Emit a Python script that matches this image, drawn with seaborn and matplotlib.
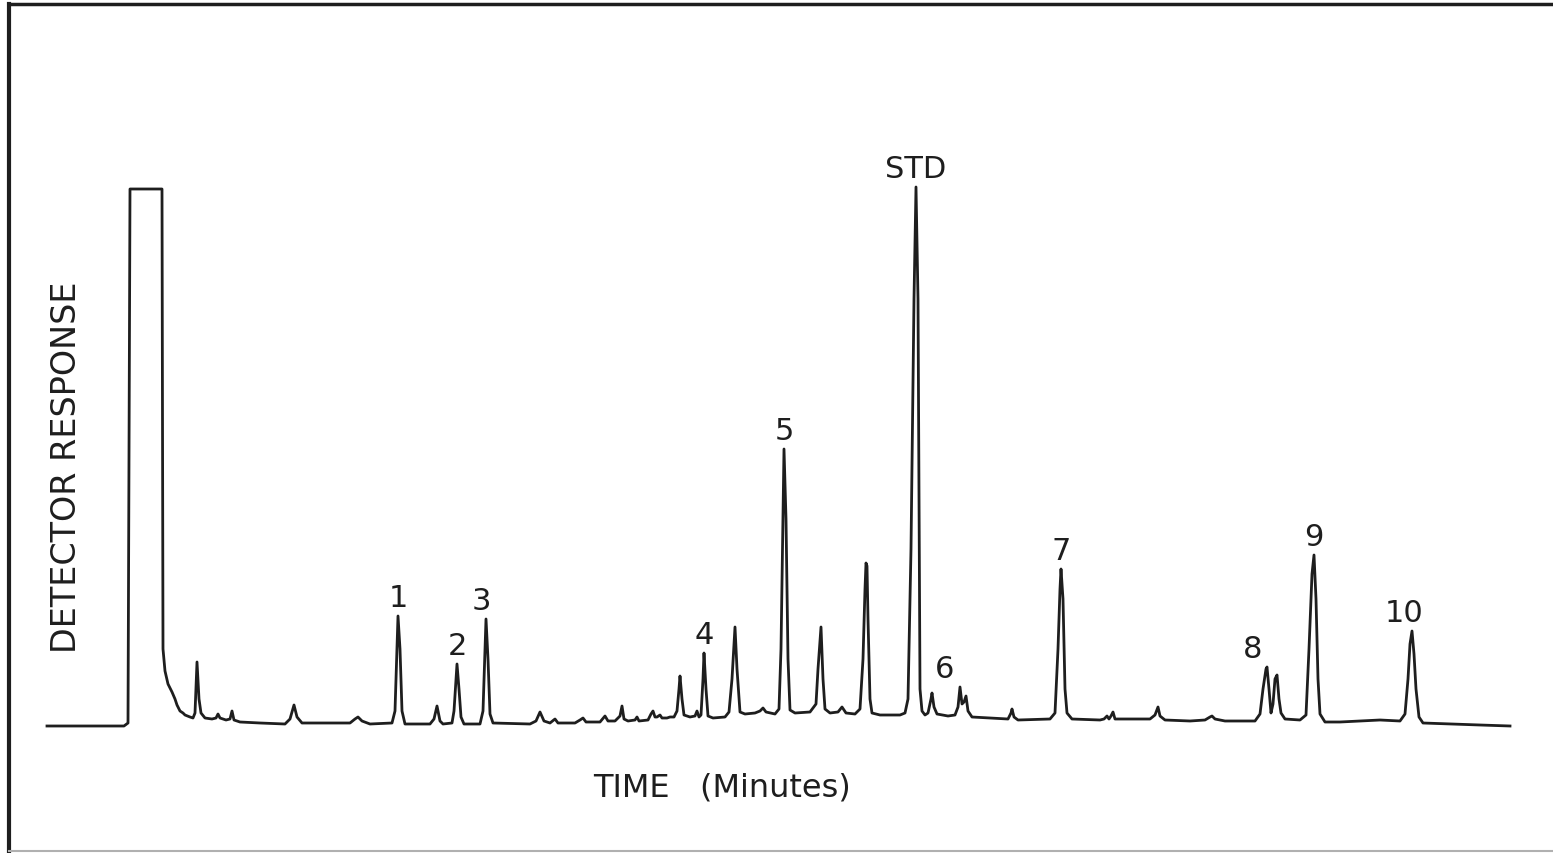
import numpy as np
import pandas as pd
import seaborn as sns
import matplotlib.pyplot as plt

"""
CHROMATOGRAM - values read off the scanned trace
time = chart column (arbitrary units), response = height above baseline
"""

time = [47, 124, 128, 130, 162, 163, 165, 168, 172, 175, 177, 180, 183, 185, 190, 193, 195, 197, 199, 201,
        205, 212, 216, 218, 220, 226, 230, 232, 234, 240, 260, 285, 290, 294, 297, 302, 330, 350, 355, 358,
        362, 370, 392, 395, 397, 398, 400, 402, 405, 430, 434, 437, 440, 443, 452, 454, 456, 457, 459, 461,
        464, 480, 483, 485, 486, 488, 490, 493, 530, 536, 540, 544, 550, 555, 558, 575, 580, 583, 586, 600,
        605, 608, 615, 620, 622, 624, 628, 635, 637, 639, 648, 651, 653, 655, 657, 660, 662, 667, 670, 674,
        677, 679, 680, 682, 684, 690, 695, 697, 699, 701, 703, 704, 706, 708, 713, 725, 729, 732, 735, 737,
        740, 745, 755, 760, 763, 766, 775, 779, 781, 783, 784, 786, 788, 790, 795, 810, 816, 818, 821, 823,
        825, 830, 838, 842, 846, 855, 860, 863, 865, 866, 867, 868, 870, 872, 880, 900, 905, 908, 911, 914,
        916, 918, 919, 920, 922, 925, 928, 931, 932, 934, 937, 948, 955, 958, 960, 962, 964, 966, 968, 972,
        990, 1008, 1011, 1012, 1014, 1018, 1050, 1055, 1058, 1060, 1061, 1063, 1065, 1067, 1072, 1100, 1104, 1107, 1109, 1111,
        1113, 1115, 1150, 1155, 1158, 1160, 1165, 1190, 1205, 1210, 1212, 1215, 1225, 1255, 1260, 1263, 1266, 1267,
        1269, 1271, 1273, 1275, 1277, 1279, 1281, 1285, 1300, 1306, 1309, 1312, 1314, 1316, 1318, 1320, 1325, 1340,
        1360, 1380, 1400, 1405, 1408, 1410, 1412, 1414, 1416, 1419, 1423, 1450, 1480, 1510]

response = [0, 0, 3, 537, 537, 77, 55, 42, 34, 27, 21, 15, 13, 11, 9, 8, 13, 64, 27, 13,
            8, 7, 8, 12, 8, 6, 7, 15, 6, 4, 3, 2, 7, 21, 9, 3, 3, 3, 7, 9,
            5, 2, 3, 15, 77, 110, 77, 15, 2, 2, 7, 20, 5, 2, 3, 15, 47, 62, 37, 9,
            2, 2, 15, 77, 107, 67, 12, 3, 2, 5, 14, 5, 3, 7, 3, 3, 6, 8, 4, 4,
            10, 5, 5, 10, 20, 7, 5, 6, 9, 5, 6, 12, 15, 9, 9, 11, 8, 8, 9, 9,
            15, 37, 50, 27, 11, 9, 10, 15, 9, 11, 47, 73, 37, 10, 8, 9, 14, 47, 99, 57,
            14, 12, 13, 15, 18, 14, 12, 17, 77, 207, 277, 207, 67, 16, 13, 14, 22, 57, 99, 47,
            17, 13, 14, 19, 13, 12, 17, 67, 137, 163, 160, 107, 27, 13, 11, 11, 13, 27, 177, 427,
            539, 427, 227, 37, 15, 11, 13, 27, 33, 19, 12, 10, 11, 19, 39, 22, 24, 30, 15, 9,
            8, 7, 13, 17, 9, 6, 7, 13, 77, 137, 157, 127, 37, 13, 7, 6, 7, 10, 7, 10,
            14, 7, 7, 11, 19, 10, 6, 5, 6, 9, 10, 7, 5, 5, 12, 37, 57, 59,
            37, 13, 22, 47, 51, 27, 13, 7, 6, 11, 77, 152, 171, 127, 47, 12, 4, 4,
            5, 6, 5, 12, 47, 82, 95, 72, 37, 9, 3, 2, 1, 0]

peak_names = ['1', '2', '3', '4', '5', 'STD', '6', '7', '8', '9', '10']
peak_times = [398, 457, 486, 704, 784, 916, 960, 1061, 1267, 1314, 1412]
peak_heights = [110, 62, 107, 73, 277, 539, 39, 157, 59, 171, 95]

df = pd.DataFrame({'time': time, 'response': response})

fig = plt.figure(figsize=(15.53, 8.54), dpi=100)
ax = fig.add_axes([9 / 1553, 2 / 854, 1 - 9 / 1553, 847 / 854])

ink = '#1e1e1e'
sns.lineplot(data=df, x='time', y='response', sort=False, estimator=None,
             color=ink, linewidth=2.0, ax=ax)

ax.set_xlim(9, 1553)
ax.set_ylim(-125, 722)
ax.set_xticks([])
ax.set_yticks([])
ax.set_xlabel('')
ax.set_ylabel('')

# frame like the scanned page
ax.spines['right'].set_visible(False)
ax.spines['left'].set_linewidth(3)
ax.spines['left'].set_color(ink)
ax.spines['top'].set_linewidth(2.5)
ax.spines['top'].set_color(ink)
ax.spines['bottom'].set_linewidth(1.5)
ax.spines['bottom'].set_color('#b0b0b0')

# peak labels just above each apex
nudge = {'6': -11, '8': -10, '10': -6, '3': -3}
for name, t, h in zip(peak_names, peak_times, peak_heights):
    ax.annotate(name, xy=(t, h), xytext=(nudge.get(name, 0), 13), textcoords='offset points',
                ha='center', va='center', fontsize=22, color=ink)

ax.text(722, -61, 'TIME   (Minutes)', ha='center', va='center', fontsize=23, color=ink)
ax.text(67, 260, 'DETECTOR RESPONSE', ha='center', va='center', rotation=90,
        fontsize=24, color=ink)

plt.savefig('out.png', dpi=100)
